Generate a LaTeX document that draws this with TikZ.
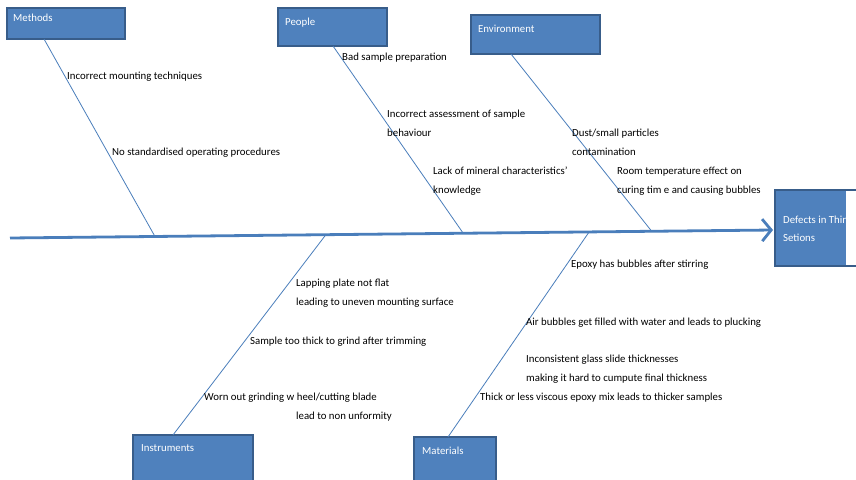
\documentclass[tikz,border=0pt]{standalone}
\usepackage{fontspec}
\setmainfont{Carlito}
\usetikzlibrary{arrows.meta,calc}
\definecolor{boxfill}{HTML}{4F81BD}
\definecolor{boxline}{HTML}{385D8A}
\definecolor{boneline}{HTML}{4A7EBB}
\tikzset{
  catbox/.style={draw=boxline, line width=1.5pt, fill=boxfill, anchor=north west, inner sep=0pt, outer sep=0pt},
  boxlab/.style={anchor=base west, inner sep=0pt, text=white},
  cause/.style={anchor=base west, inner sep=0pt, align=left, text=black},
  bone/.style={draw=boneline, line width=0.8pt},
  spine/.style={draw=boneline, line width=2.8pt, -{Straight Barb[length=9pt,width=22pt]}}
}
\begin{document}
\begin{tikzpicture}[x=1pt, y=-1pt, font=\fontsize{10.8}{19}\selectfont]
\clip (0,0) rectangle (856,479);
\fill[white] (0,0) rectangle (856,479);
% category boxes
\node[catbox, minimum width=118pt, minimum height=31pt] (methods) at (7,8) {};
\node[catbox, minimum width=109pt, minimum height=38pt] (people) at (278,8) {};
\node[catbox, minimum width=129pt, minimum height=39pt] (environment) at (471,15) {};
\node[catbox, minimum width=120pt, minimum height=60pt] (instruments) at (133,435) {};
\node[catbox, minimum width=82pt, minimum height=60pt] (materials) at (414,437) {};
\node[catbox, minimum width=90pt, minimum height=76pt] (effect) at (775,190) {};
\fill[white] (846,191) rectangle (860,265);
\node[boxlab] (methodsT) at ($(methods.north west)+(6,13)$) {Methods};
\node[boxlab] (peopleT) at ($(people.north west)+(7,17)$) {People};
\node[boxlab] (environmentT) at ($(environment.north west)+(7,17)$) {Environment};
\node[boxlab] (instrumentsT) at ($(instruments.north west)+(8,16)$) {Instruments};
\node[boxlab] (materialsT) at ($(materials.north west)+(8,17)$) {Materials};
\begin{scope}
\clip (775,190) rectangle (846,266);
\node[boxlab, align=left, font=\fontsize{10.8}{18}\selectfont] (effectT) at (783,241) {Defects in Thin\\Setions};
\end{scope}
% spine
\coordinate (tail) at (10,238);
\coordinate (head) at ([xshift=-2pt,yshift=-2pt]effect.west);
\draw[spine] (tail) -- (head);
% bones
\coordinate (mS) at ($(tail)!0.190!(head)$);
\coordinate (pS) at ($(tail)!0.594!(head)$);
\coordinate (eS) at ($(tail)!0.841!(head)$);
\coordinate (iS) at ($(tail)!0.414!(head)$);
\coordinate (maS) at ($(tail)!0.759!(head)$);
\draw[bone] ($(methods.south west)+(37,0)$) -- (mS);
\draw[bone] ($(people.south west)+(55,0)$) -- (pS);
\draw[bone] ($(environment.south west)+(40,0)$) -- (eS);
\draw[bone] ($(instruments.north west)+(40,0)$) -- (iS);
\draw[bone] ($(materials.north west)+(34,0)$) -- (maS);
% causes
\node[cause] (c1) at (67,79) {Incorrect mounting techniques};
\node[cause] (c2) at (112,155) {No standardised operating procedures};
\node[cause] (c3) at (342,60) {Bad sample preparation};
\node[cause] (c4) at (387,136) {Incorrect assessment of sample\\behaviour};
\node[cause] (c5) at (433,193) {Lack of mineral characteristics'\\knowledge};
\node[cause] (c6) at (572,155) {Dust/small particles\\contamination};
\node[cause] (c7) at (617,193) {Room temperature effect on\\curing tim e and causing bubbles};
\node[cause] (c8) at (571,267) {Epoxy has bubbles after stirring};
\node[cause] (c9) at (526,325) {Air bubbles get filled with water and leads to plucking};
\node[cause] (c10) at (526,381) {Inconsistent glass slide thicknesses\\making it hard to cumpute final thickness};
\node[cause] (c11) at (480,400) {Thick or less viscous epoxy mix leads to thicker samples};
\node[cause] (c12) at (296,305) {Lapping plate not flat\\leading to uneven mounting surface};
\node[cause] (c13) at (250,344) {Sample too thick to grind after trimming};
\node[cause] (c14) at (204,419) {Worn out grinding w heel/cutting blade\\\hspace*{92pt}lead to non unformity};
\end{tikzpicture}
\end{document}
